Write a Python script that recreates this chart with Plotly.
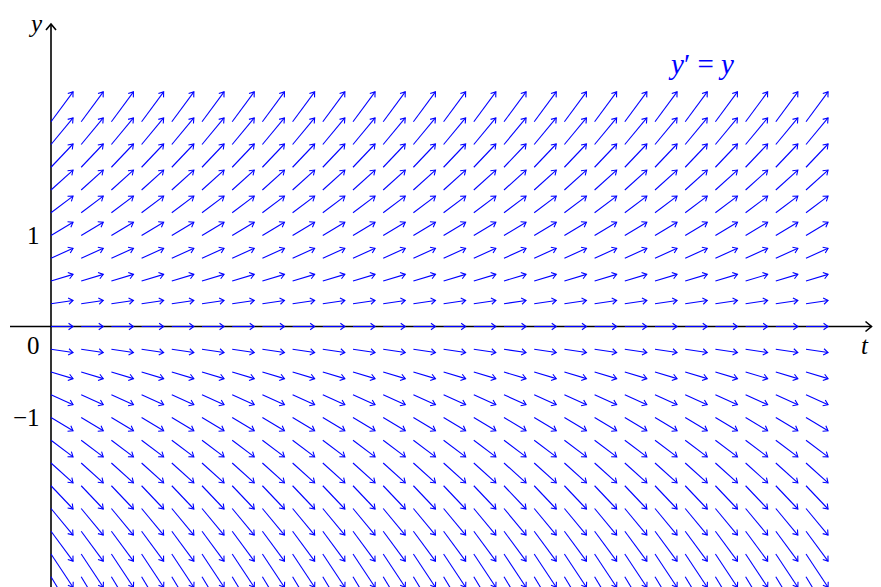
import math
import plotly.graph_objects as go

# ---------------- data ----------------
t_grid = [0.0, 0.2, 0.4, 0.6, 0.8, 1.0, 1.2, 1.4, 1.6, 1.8, 2.0, 2.2, 2.4,
          2.6, 2.8, 3.0, 3.2, 3.4, 3.6, 3.8, 4.0, 4.2, 4.4, 4.6, 4.8, 5.0]
y_grid = [-3.0, -2.75, -2.5, -2.25, -2.0, -1.75, -1.5, -1.25, -1.0, -0.75,
          -0.5, -0.25, 0.0, 0.25, 0.5, 0.75, 1.0, 1.25, 1.5, 1.75, 2.0, 2.25]
arrow_scale = 0.146          # length factor of the vector (1, y')
tick_vals = [1, 0, -1]
tick_text = ["1", "0", "\u22121"]
equation_text = "<i>y</i>\u2032 = <i>y</i>"


def slope(t, y):
    # ODE  y' = y
    return y


# ---------------- geometry ----------------
PAGE_OFF = 8                      # browser body margin
W, H = 881 - 2 * PAGE_OFF, 587 - PAGE_OFF
X0_PX, Y0_PX = 51 - PAGE_OFF, 326.5 - PAGE_OFF   # origin in figure pixels
UX, UY = 151, 91                                 # pixels per unit
X_RANGE = [-X0_PX / UX, (W - X0_PX) / UX]
Y_RANGE = [-(H - Y0_PX) / UY, Y0_PX / UY]
PXX = W / (X_RANGE[1] - X_RANGE[0])
PXY = H / (Y_RANGE[1] - Y_RANGE[0])
BLUE = "rgb(0,0,255)"


def px_to_x(p):
    return (p - PAGE_OFF - X0_PX) / UX


def px_to_y(p):
    return (Y0_PX - (p - PAGE_OFF)) / UY


def arrow_paths(x0, y0, x1, y1, head_len, head_w):
    dxp = (x1 - x0) * PXX
    dyp = (y1 - y0) * PXY
    L = math.hypot(dxp, dyp)
    ux, uy = dxp / L, dyp / L
    px, py = -uy, ux
    sx, sy = [x0, x1, None], [y0, y1, None]
    pts = []
    for s in (1, -1):
        pts.append((x1 + (-head_len * ux + s * head_w * px) / PXX,
                    y1 + (-head_len * uy + s * head_w * py) / PXY))
    hx = [pts[0][0], x1, pts[1][0], None]
    hy = [pts[0][1], y1, pts[1][1], None]
    return sx, sy, hx, hy


fig = go.Figure()

# axes
ax_sx, ax_sy, ax_hx, ax_hy = [], [], [], []
for (a, b, c, d) in [(px_to_x(10), 0, px_to_x(871.5), 0),
                     (0, Y_RANGE[0] - 0.1, 0, px_to_y(24))]:
    sx, sy, hx, hy = arrow_paths(a, b, c, d, 6, 5)
    ax_sx += sx; ax_sy += sy; ax_hx += hx; ax_hy += hy
fig.add_trace(go.Scatter(x=ax_sx + ax_hx, y=ax_sy + ax_hy, mode="lines",
                         line=dict(color="black", width=1.6),
                         hoverinfo="skip", showlegend=False))

# slope field
qx, qy, qhx, qhy = [], [], [], []
for y in y_grid:
    for t in t_grid:
        t1 = t + arrow_scale * 1.0
        y1 = y + arrow_scale * slope(t, y)
        sx, sy, hx, hy = arrow_paths(t, y, t1, y1, 4.5, 3.2)
        qx += sx; qy += sy; qhx += hx; qhy += hy
fig.add_trace(go.Scatter(x=qx + qhx, y=qy + qhy, mode="lines",
                         line=dict(color=BLUE, width=1.1),
                         hoverinfo="skip", showlegend=False))

# labels
SERIF = "Liberation Serif"
FS = 25
ann = []
for v, txt in zip(tick_vals, tick_text):
    yv = px_to_y(345) if v == 0 else v
    ann.append(dict(x=px_to_x(42), y=yv, text=txt, xanchor="right",
                    yanchor="middle", showarrow=False,
                    font=dict(family=SERIF, size=FS, color="black")))
ann.append(dict(x=px_to_x(35), y=px_to_y(23), text="<i>y</i>",
                showarrow=False, xanchor="center", yanchor="middle",
                font=dict(family=SERIF, size=FS, color="black")))
ann.append(dict(x=px_to_x(871), y=px_to_y(345), text="<i>t</i>",
                showarrow=False, xanchor="right", yanchor="middle",
                font=dict(family=SERIF, size=FS, color="black")))
ann.append(dict(x=px_to_x(701), y=px_to_y(64), text=equation_text,
                showarrow=False, xanchor="center", yanchor="middle",
                font=dict(family=SERIF, size=29, color=BLUE)))

fig.update_layout(
    width=W, height=H,
    margin=dict(l=0, r=0, t=0, b=0),
    paper_bgcolor="white", plot_bgcolor="white",
    xaxis=dict(range=X_RANGE, visible=False, fixedrange=True),
    yaxis=dict(range=Y_RANGE, visible=False, fixedrange=True),
    annotations=ann,
    showlegend=False,
)

fig.write_html("out.html")
